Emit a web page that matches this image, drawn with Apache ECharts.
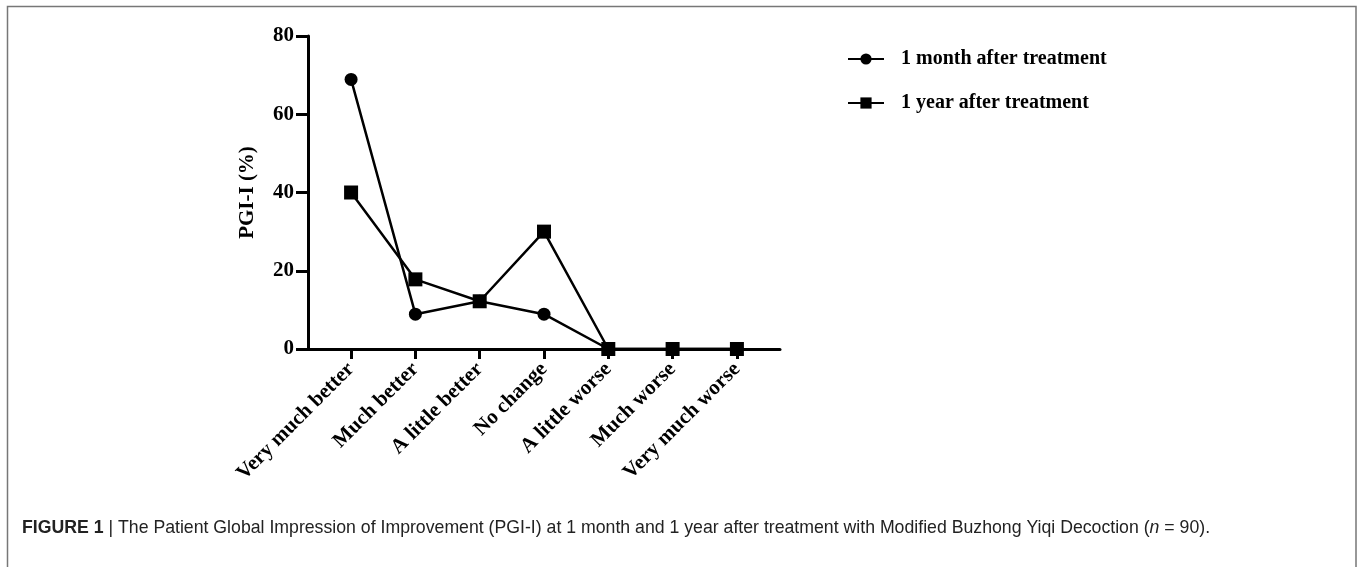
<!DOCTYPE html>
<html>
<head>
<meta charset="utf-8">
<script src="https://cdn.jsdelivr.net/npm/echarts@6/dist/echarts.min.js"></script>
<style>
html,body{margin:0;padding:0;background:#fff;}
#chart{width:1357px;height:567px;}
</style>
</head>
<body>
<div id="chart"></div>
<script>
const categories = ['Very much better','Much better','A little better','No change','A little worse','Much worse','Very much worse'];
const oneMonth = [68.9, 8.9, 12.2, 8.9, 0, 0, 0];
const oneYear = [40.0, 17.8, 12.2, 30.0, 0, 0, 0];
const seriesNames = ['1 month after treatment','1 year after treatment'];
const yTicks = [0, 20, 40, 60, 80];

const serif = '"Liberation Serif", "Times New Roman", serif';
const sans = '"Liberation Sans", Arial, sans-serif';
const idx = categories.map((c, i) => i);
const toPairs = arr => arr.map((v, i) => [i, v]);

const chart = echarts.init(document.getElementById('chart'), null, {renderer: 'canvas'});
chart.setOption({
  animation: false,
  backgroundColor: '#fff',
  grid: {left: 308, right: 577, top: 36, bottom: 218, containLabel: false},
  legend: {
    orient: 'vertical', left: 842, top: 44, itemWidth: 36, itemHeight: 14, itemGap: 24,
    textStyle: {fontFamily: serif, fontWeight: 'bold', fontSize: 20, color: '#000', padding: [0,0,0,12]},
    data: seriesNames
  },
  xAxis: {
    type: 'value', min: -0.67, max: 6.67,
    splitLine: {show: false},
    axisLine: {show: true, onZero: false, lineStyle: {color: '#000', width: 3}},
    axisTick: {show: true, customValues: idx, length: 10, lineStyle: {color: '#000', width: 3}},
    axisLabel: {
      customValues: idx, rotate: 45, margin: 17,
      formatter: v => categories[Math.round(v)],
      fontFamily: serif, fontWeight: 'bold', fontSize: 21, color: '#000'
    }
  },
  yAxis: {
    type: 'value', min: 0, max: 80, interval: 20,
    name: 'PGI-I (%)', nameLocation: 'middle', nameGap: 50, nameRotate: 90,
    nameTextStyle: {fontFamily: serif, fontWeight: 'bold', fontSize: 21, color: '#000'},
    splitLine: {show: false},
    axisLine: {show: true, onZero: false, lineStyle: {color: '#000', width: 3}},
    axisTick: {show: true, length: 12, lineStyle: {color: '#000', width: 3}},
    axisLabel: {
      customValues: yTicks, margin: 14,
      fontFamily: serif, fontWeight: 'bold', fontSize: 21, color: '#000'
    }
  },
  series: [
    {
      name: seriesNames[0], type: 'line', data: toPairs(oneMonth),
      symbol: 'circle', symbolSize: 13, showAllSymbol: true,
      lineStyle: {color: '#000', width: 2.5}, itemStyle: {color: '#000'}, z: 2
    },
    {
      name: seriesNames[1], type: 'line', data: toPairs(oneYear),
      symbol: 'rect', symbolSize: 14, showAllSymbol: true,
      lineStyle: {color: '#000', width: 2.5}, itemStyle: {color: '#000'}, z: 3
    }
  ],
  graphic: [
    {type: 'rect', shape: {x: 7.5, y: 6.5, width: 1348.5, height: 700}, style: {fill: 'none', stroke: '#777', lineWidth: 1.5}, silent: true},
    {type: 'text', left: 22, top: 519, style: {
      text: '{b|FIGURE 1} | The Patient Global Impression of Improvement (PGI-I) at 1 month and 1 year after treatment with Modified Buzhong Yiqi Decoction ({i|n} = 90).',
      fontFamily: sans, fontSize: 17.7, fill: '#222',
      rich: {
        b: {fontFamily: sans, fontSize: 17.7, fontWeight: 'bold', fill: '#222'},
        i: {fontFamily: sans, fontSize: 17.7, fontStyle: 'italic', fill: '#222'}
      }
    }}
  ]
});
</script>
</body>
</html>
